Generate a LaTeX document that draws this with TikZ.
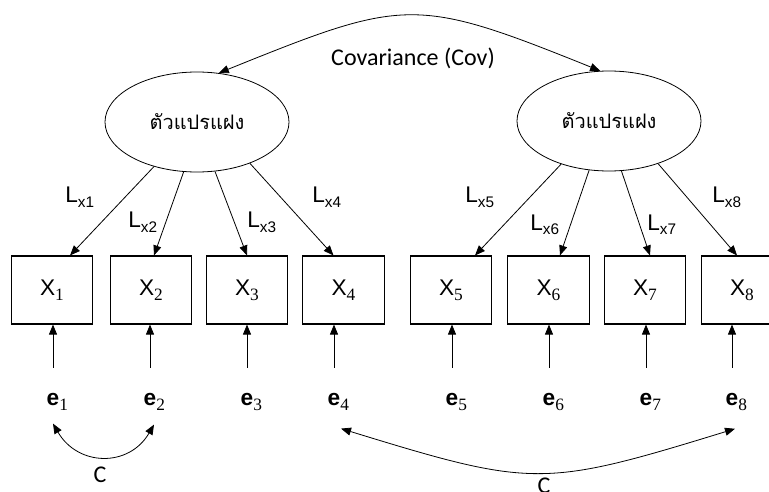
\documentclass[tikz,border=0pt]{standalone}
\usepackage{fontspec}
\setmainfont{Liberation Sans}
\newfontfamily\thaifont[Script=Thai]{Loma}
\newfontfamily\calib{Carlito}
\newfontfamily\serifnum{Liberation Serif}
\usetikzlibrary{shapes.geometric,arrows.meta,calc}
\newcommand\sbs[1]{\raisebox{-4pt}{\fontsize{13}{14}\selectfont\serifnum #1}}
\newcommand\lsb[1]{\raisebox{-3.5pt}{\fontsize{11.5}{12}\selectfont #1}}
\begin{document}
\begin{tikzpicture}[x=0.75pt,y=-0.75pt,
  lat/.style={ellipse,draw,line width=0.6pt,minimum width=138pt,minimum height=75pt,inner sep=0pt,font=\thaifont\fontsize{15}{18}\selectfont},
  obs/.style={rectangle,draw,line width=0.8pt,minimum width=61pt,minimum height=51pt,inner sep=0pt,font=\fontsize{17}{20}\selectfont},
  err/.style={inner sep=0pt,anchor=base,font=\fontsize{17}{20}\selectfont},
  lab/.style={inner sep=0pt,anchor=base west,font=\fontsize{17}{20}\selectfont},
  cov/.style={inner sep=0pt,font=\calib\fontsize{18}{20}\selectfont},
  arr/.style={-{Triangle[length=7.5pt,width=6pt]},line width=0.6pt},
  darr/.style={{Triangle[length=7.5pt,width=6pt]}-{Triangle[length=7.5pt,width=6pt]},line width=0.6pt}]
\useasboundingbox (0,0) rectangle (769,492);
\clip (0,0) rectangle (769,492);
% latent variables
\node[lat] (l1) at (197,122) {ตัวแปรแฝง};
\node[lat] (l2) at (609,121) {ตัวแปรแฝง};
% observed
\node[obs] (x1) at (52,290) {X\sbs{1}};
\node[obs] (x2) at (151,290) {X\sbs{2}};
\node[obs] (x3) at (247,290) {X\sbs{3}};
\node[obs] (x4) at (343.5,290) {X\sbs{4}};
\node[obs] (x5) at (451,290) {X\sbs{5}};
\node[obs] (x6) at (548.5,290) {X\sbs{6}};
\node[obs] (x7) at (645,290) {X\sbs{7}};
\node[obs] (x8) at (742,290) {X\sbs{8}};
% errors
\node[err] (e1) at (53,405) {\textbf{e}\rlap{\sbs{1}}};
\node[err] (e2) at (150,405) {\textbf{e}\rlap{\sbs{2}}};
\node[err] (e3) at (247,405) {\textbf{e}\rlap{\sbs{3}}};
\node[err] (e4) at (334,405) {\textbf{e}\rlap{\sbs{4}}};
\node[err] (e5) at (452,405) {\textbf{e}\rlap{\sbs{5}}};
\node[err] (e6) at (549,405) {\textbf{e}\rlap{\sbs{6}}};
\node[err] (e7) at (646,405) {\textbf{e}\rlap{\sbs{7}}};
\node[err] (e8) at (732,405) {\textbf{e}\rlap{\sbs{8}}};
% loadings
\draw[arr] (l1.226.8) -- ($(x1.north)+(18,0)$);
\draw[arr] (l1.255.7) -- ($(x2.north)+(3,0)$);
\draw[arr] (l1.290.9) -- (x3.north);
\draw[arr] (l1.322.5) -- ($(x4.north)+(-10,0)$);
\draw[arr] (l2.222) -- ($(x5.north)+(24,0)$);
\draw[arr] (l2.248.6) -- ($(x6.north)+(11.5,0)$);
\draw[arr] (l2.284) -- ($(x7.north)+(5,0)$);
\draw[arr] (l2.319) -- ($(x8.north)+(-5,0)$);
% loading labels
\node[lab] (lx1) at (65,203) {L\lsb{x1}};
\node[lab] (lx2) at (128,228) {L\lsb{x2}};
\node[lab] (lx3) at (247,228) {L\lsb{x3}};
\node[lab] (lx4) at (312,203) {L\lsb{x4}};
\node[lab] (lx5) at (465,203) {L\lsb{x5}};
\node[lab] (lx6) at (530,230) {L\lsb{x6}};
\node[lab] (lx7) at (647,230) {L\lsb{x7}};
\node[lab] (lx8) at (712,203) {L\lsb{x8}};
% error arrows
\foreach \i in {1,...,8}{
  \draw[arr] ($(e\i.north)+(0,-25)$) -- (e\i |- x\i.south);
}
% covariances
\draw[darr] (l1.66.8) .. controls +(186,-75) and +(-186,-75) .. (l2.100.8);
\node[cov] (covlab) at (413,58) {Covariance (Cov)};
\draw[darr] ($(e1.south)+(0,13)$) .. controls +(25,43) and +(-25,43) .. ($(e2.south)+(4,14)$);
\node[cov] (c1) at (100,475) {C};
\draw[darr] ($(e4.south)+(7,18)$) .. controls +(192,59) and +(-192,59) .. ($(e8.south)+(3,18)$);
\node[cov] (c2) at (544,486) {C};
\end{tikzpicture}
\end{document}
